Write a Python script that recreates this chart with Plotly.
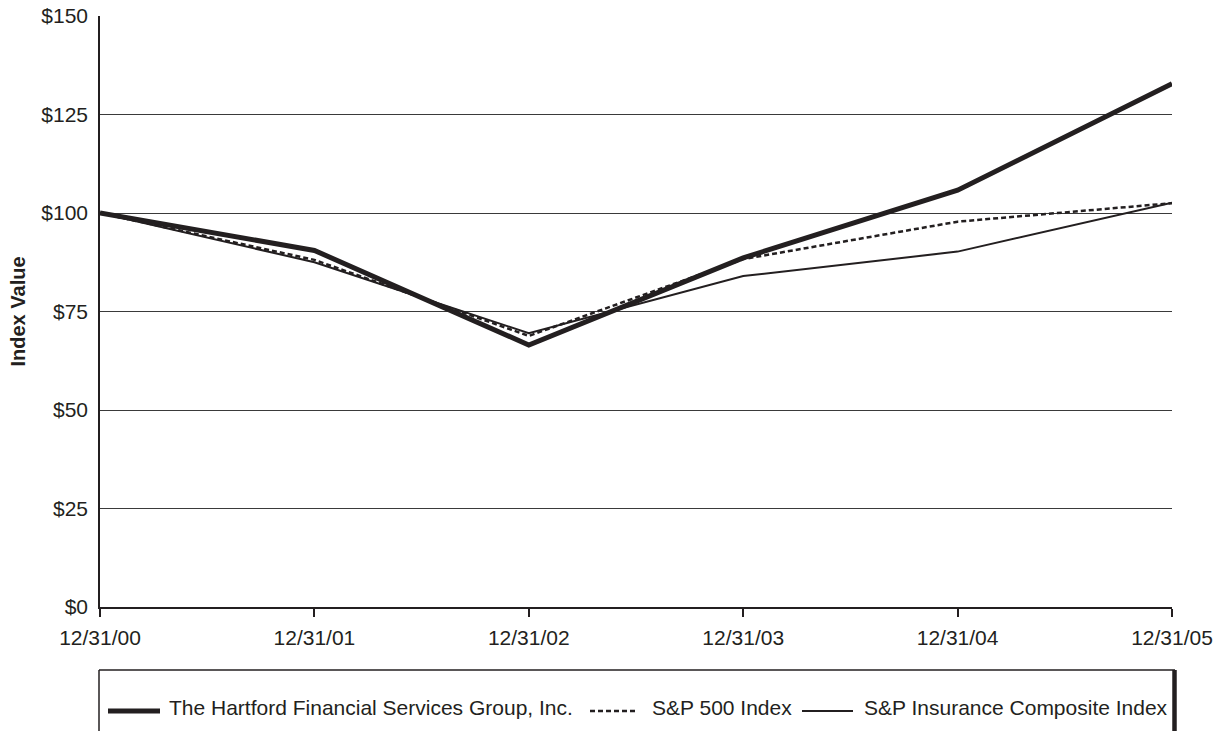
import plotly.graph_objects as go

dates = ["12/31/00", "12/31/01", "12/31/02", "12/31/03", "12/31/04", "12/31/05"]
hartford = [100, 90.5, 66.5, 88.6, 105.8, 132.8]
sp500 = [100, 88.1, 68.8, 88.3, 97.8, 102.5]
insurance = [100, 87.5, 69.5, 84.0, 90.2, 102.6]
y_ticks = [0, 25, 50, 75, 100, 125, 150]
y_labels = ["$0", "$25", "$50", "$75", "$100", "$125", "$150"]
series_names = ["The Hartford Financial Services Group, Inc.", "S&P 500 Index",
                "S&P Insurance Composite Index"]

xs = list(range(len(dates)))
BLACK = "#231f20"

W, H = 1215, 731
ML, MR, MT, MB = 100, 43, 16, 0
PW, PH = W - ML - MR, H - MT - MB
PLOT_BOTTOM = 607


def px_x(px):
    return (px - ML) / PW


def px_y(py):
    return (H - MB - py) / PH


styles = [dict(color=BLACK, width=5), dict(color=BLACK, width=2.5, dash="5px,3px"),
          dict(color=BLACK, width=2)]
values = [hartford, sp500, insurance]

fig = go.Figure()
for i in [2, 1, 0]:
    fig.add_trace(go.Scatter(x=xs, y=values[i], mode="lines", name=series_names[i],
                             line=styles[i], showlegend=False))

fig.update_layout(
    width=W, height=H,
    margin=dict(l=ML, r=MR, t=MT, b=MB, autoexpand=False),
    paper_bgcolor="white", plot_bgcolor="white",
    font=dict(family="Liberation Sans, Arial, sans-serif", size=21, color=BLACK),
    showlegend=False,
    xaxis=dict(range=[0, 5], tickmode="array", tickvals=xs, ticktext=dates, automargin=False,
               showgrid=False, zeroline=False, showline=True, linecolor=BLACK, linewidth=1.5,
               ticks="outside", ticklen=8, tickwidth=1.5, tickcolor=BLACK, ticklabelstandoff=3,
               tickfont=dict(size=21, color=BLACK)),
    yaxis=dict(range=[0, 150], domain=[px_y(PLOT_BOTTOM), 1], automargin=False,
               tickmode="array", tickvals=y_ticks, ticktext=y_labels,
               showgrid=True, gridcolor="#3a3a3a", gridwidth=1.3, zeroline=False,
               showline=True, linecolor=BLACK, linewidth=1.5, ticks="", ticklabelstandoff=6,
               tickfont=dict(size=21, color=BLACK),
               title=dict(text="<b>Index Value</b>", font=dict(size=20, color=BLACK), standoff=10)),
)

# legend frame (top, left, thick right border; bottom runs off the page)
top = px_y(670)
fig.add_shape(type="line", xref="paper", yref="paper", x0=px_x(99), x1=px_x(1175), y0=top, y1=top,
              line=dict(color=BLACK, width=1.5))
fig.add_shape(type="line", xref="paper", yref="paper", x0=px_x(99), x1=px_x(99), y0=top, y1=px_y(740),
              line=dict(color=BLACK, width=1.5))
fig.add_shape(type="line", xref="paper", yref="paper", x0=px_x(1174.5), x1=px_x(1174.5), y0=top, y1=px_y(740),
              line=dict(color=BLACK, width=4.5))

# legend keys and labels
key_x = [(108, 160), (590, 637), (802, 853)]
text_x = [168, 651, 863]
key_y = px_y(711)
for i in range(3):
    fig.add_shape(type="line", xref="paper", yref="paper", x0=px_x(key_x[i][0]), x1=px_x(key_x[i][1]),
                  y0=key_y, y1=key_y, line=styles[i])
    fig.add_annotation(xref="paper", yref="paper", x=px_x(text_x[i]), y=px_y(707), xanchor="left",
                       yanchor="middle", text=series_names[i], showarrow=False,
                       font=dict(size=21, color=BLACK), borderpad=0)

fig.write_html("out.html")
